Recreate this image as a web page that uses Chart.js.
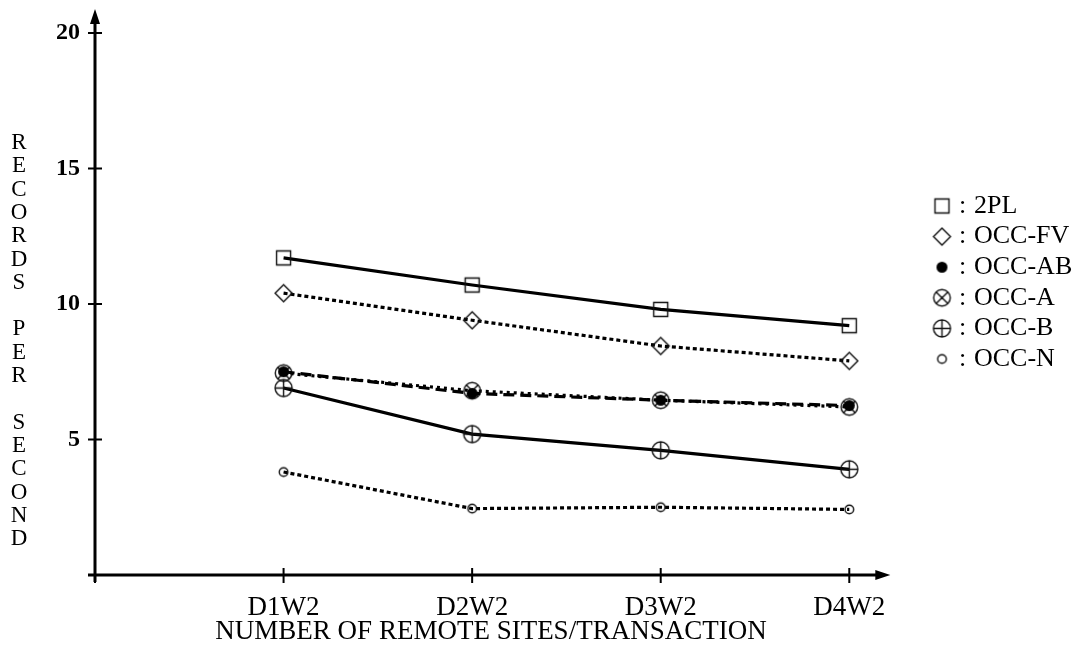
<!DOCTYPE html>
<html>
<head>
<meta charset="utf-8">
<script src="https://cdn.jsdelivr.net/npm/chart.js@4.4.1/dist/chart.umd.min.js"></script>
<style>
  html, body { margin: 0; padding: 0; background: #fff; }
  #wrap { width: 1079px; height: 650px; }
</style>
</head>
<body>
<div id="wrap"><canvas id="chart"></canvas></div>
<script>
// Data
const categories = ["D1W2", "D2W2", "D3W2", "D4W2"];
const yTicks = [0, 5, 10, 15, 20];
const labels = ["2PL", "OCC-FV", "OCC-AB", "OCC-A", "OCC-B", "OCC-N"];
const twoPL = [11.7, 10.7, 9.8, 9.2];
const occFV = [10.4, 9.4, 8.45, 7.9];
const occAB = [7.5, 6.7, 6.45, 6.25];
const occA = [7.45, 6.8, 6.45, 6.2];
const occB = [6.9, 5.2, 4.6, 3.9];
const occN = [3.8, 2.45, 2.5, 2.42];

const serif = "'Liberation Serif', 'DejaVu Serif', serif";

// Small canvases used as point styles (chart and legend)
function marker(kind) {
    const c = document.createElement('canvas');
    c.width = 23; c.height = 23;
    const g = c.getContext('2d');
    const m = 11.5;
    g.strokeStyle = '#111';
    g.fillStyle = '#000';
    g.lineWidth = 1.4;
    g.beginPath();
    if (kind === 'square') {
        g.rect(m - 7, m - 7, 14, 14);
        g.stroke();
    } else if (kind === 'diamond') {
        g.moveTo(m, m - 8.5); g.lineTo(m + 8.5, m); g.lineTo(m, m + 8.5); g.lineTo(m - 8.5, m); g.closePath();
        g.stroke();
    } else if (kind === 'dot') {
        g.arc(m, m, 5.5, 0, Math.PI * 2);
        g.fill();
    } else if (kind === 'cross') {
        const r = 8.3, d = r * Math.SQRT1_2;
        g.arc(m, m, r, 0, Math.PI * 2);
        g.moveTo(m - d, m - d); g.lineTo(m + d, m + d);
        g.moveTo(m + d, m - d); g.lineTo(m - d, m + d);
        g.stroke();
    } else if (kind === 'plus') {
        const r = 8.5;
        g.arc(m, m, r, 0, Math.PI * 2);
        g.moveTo(m - r, m); g.lineTo(m + r, m);
        g.moveTo(m, m - r); g.lineTo(m, m + r);
        g.stroke();
    } else {
        g.arc(m, m, 4.3, 0, Math.PI * 2);
        g.stroke();
    }
    return c;
}

const points = arr => arr.map((v, i) => ({ x: i + 1, y: v }));

function series(label, values, kind, dash) {
    return {
        label: label,
        data: points(values),
        borderColor: '#000',
        borderWidth: 3.2,
        borderDash: dash,
        pointStyle: marker(kind),
        pointRadius: 10,
        pointHoverRadius: 10,
        fill: false,
        tension: 0,
    };
}

// axes with arrows and crossing tick marks
const axesPlugin = {
    id: 'axes',
    afterDatasetsDraw(chart) {
        const ctx = chart.ctx;
        const xs = chart.scales.x, ys = chart.scales.y;
        const x0 = xs.getPixelForValue(0), y0 = ys.getPixelForValue(0);
        const yTop = ys.getPixelForValue(20) - 22;
        const xEnd = xs.getPixelForValue(4) + 39;
        ctx.save();
        ctx.strokeStyle = '#000';
        ctx.fillStyle = '#000';
        ctx.lineWidth = 3;
        ctx.beginPath();
        ctx.moveTo(x0, y0 + 7); ctx.lineTo(x0, yTop + 10);
        ctx.moveTo(x0 - 7, y0); ctx.lineTo(xEnd - 10, y0);
        ctx.stroke();
        ctx.lineWidth = 2;
        ctx.beginPath();
        yTicks.forEach(v => {
            const y = ys.getPixelForValue(v);
            ctx.moveTo(x0 - 7, y); ctx.lineTo(x0 + 7, y);
        });
        [0, 1, 2, 3, 4].forEach(v => {
            const x = xs.getPixelForValue(v);
            ctx.moveTo(x, y0 - 7); ctx.lineTo(x, y0 + 8);
        });
        ctx.stroke();
        // arrow heads
        ctx.beginPath();
        ctx.moveTo(x0, yTop - 2); ctx.lineTo(x0 - 5, yTop + 13); ctx.lineTo(x0 + 5, yTop + 13); ctx.closePath();
        ctx.fill();
        ctx.beginPath();
        ctx.moveTo(xEnd + 2, y0); ctx.lineTo(xEnd - 13, y0 - 5); ctx.lineTo(xEnd - 13, y0 + 5); ctx.closePath();
        ctx.fill();
        ctx.restore();
    }
};

// stacked y title and the legend on the right
const textPlugin = {
    id: 'texts',
    afterDraw(chart) {
        const ctx = chart.ctx;
        ctx.save();
        ctx.fillStyle = '#000';
        ctx.textAlign = 'center';
        ctx.textBaseline = 'middle';
        ctx.font = '23px ' + serif;
        const title = 'RECORDS PER SECOND'.split('');
        title.forEach((ch, i) => {
            ctx.fillText(ch, 19, 143 + i * 23.3);
        });
        ctx.font = '26px ' + serif;
        chart.data.datasets.forEach((ds, i) => {
            const y = 206 + i * 30.6;
            const img = ds.pointStyle;
            ctx.drawImage(img, 942 - img.width / 2, y - img.height / 2);
            ctx.textAlign = 'left';
            ctx.fillText(':', 959, y);
            ctx.fillText(ds.label, 974, y);
        });
        ctx.restore();
    }
};

new Chart(document.getElementById('chart'), {
    type: 'line',
    data: {
        datasets: [
            series(labels[0], twoPL, 'square', []),
            series(labels[1], occFV, 'diamond', [4, 3]),
            series(labels[2], occAB, 'dot', [11, 6]),
            series(labels[3], occA, 'cross', [3, 4]),
            series(labels[4], occB, 'plus', []),
            series(labels[5], occN, 'ring', [4, 3]),
        ]
    },
    options: {
        responsive: true,
        maintainAspectRatio: false,
        animation: false,
        events: [],
        layout: { padding: { top: 10, right: 192, left: 0, bottom: 0 } },
        plugins: {
            legend: { display: false },
            tooltip: { enabled: false },
        },
        scales: {
            x: {
                type: 'linear',
                min: 0,
                max: 4.2,
                grid: { display: false, drawTicks: false },
                border: { display: false },
                afterBuildTicks: s => { s.ticks = [0, 1, 2, 3, 4].map(v => ({ value: v })); },
                afterFit: s => { s.height = 75; s.paddingLeft = 0; s.paddingRight = 0; },
                ticks: {
                    padding: 17,
                    color: '#000',
                    font: { family: serif, size: 27 },
                    maxRotation: 0,
                    autoSkip: false,
                    callback: v => (v === 0 ? '' : categories[v - 1]),
                },
                title: {
                    display: true,
                    text: 'NUMBER OF REMOTE SITES/TRANSACTION',
                    color: '#000',
                    font: { family: serif, size: 27 },
                    padding: { top: 0, bottom: 2 },
                },
            },
            y: {
                min: 0,
                max: 20.73,
                grid: { display: false, drawTicks: false },
                border: { display: false },
                afterBuildTicks: s => { s.ticks = yTicks.map(v => ({ value: v })); },
                afterFit: s => { s.width = 95; s.paddingTop = 0; s.paddingBottom = 0; },
                ticks: {
                    padding: 15,
                    color: '#000',
                    font: { family: serif, size: 24, weight: 'bold' },
                    callback: v => (v === 0 ? '' : String(v)),
                },
            },
        },
    },
    plugins: [axesPlugin, textPlugin],
});
</script>
</body>
</html>
